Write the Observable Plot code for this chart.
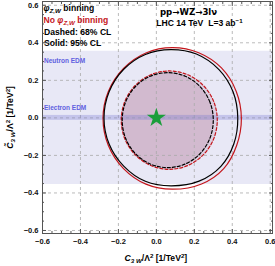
<!DOCTYPE html>
<html><head><meta charset="utf-8">
<script src="https://cdn.jsdelivr.net/npm/d3@7"></script>
<script src="https://cdn.jsdelivr.net/npm/@observablehq/plot@0.6"></script>
<style>
body{margin:0;background:#fff;}
#chart svg{display:block;font-family:"Liberation Sans","DejaVu Sans",Arial,sans-serif;}
</style>
</head><body><div id="chart"></div>
<script>
// tick values
const xTicks = [-0.6, -0.4, -0.2, 0.0, 0.2, 0.4, 0.6];
const yTicks = [-0.6, -0.4, -0.2, 0.0, 0.2, 0.4, 0.6];
const minorTicks = [-0.55,-0.5,-0.45,-0.35,-0.3,-0.25,-0.15,-0.1,-0.05,0.05,0.1,0.15,0.25,0.3,0.35,0.45,0.5,0.55];
// EDM bands (C3W-tilde limits)
const neutronBand = [{lo: -0.355, hi: 0.355}];
const electronBand = [{lo: -0.013, hi: 0.013}];
// SM point
const smPoint = [{x: 0, y: 0}];
// contours: [C3W, C3W-tilde]
const binning95 = [[0.429,0.0],[0.404,0.139],[0.33,0.257],[0.211,0.34],[0.077,0.364],[-0.058,0.338],[-0.172,0.259],[-0.249,0.139],[-0.276,0.0],[-0.249,-0.139],[-0.172,-0.257],[-0.058,-0.338],[0.077,-0.362],[0.225,-0.337],[0.34,-0.258],[0.408,-0.139]];
const noBinning95 = [[0.448,-0.003],[0.421,0.141],[0.343,0.266],[0.223,0.347],[0.084,0.374],[-0.055,0.346],[-0.173,0.264],[-0.253,0.141],[-0.281,-0.003],[-0.253,-0.147],[-0.173,-0.27],[-0.055,-0.353],[0.084,-0.38],[0.238,-0.352],[0.355,-0.27],[0.423,-0.147]];
const binning68 = [[0.3,-0.012],[0.282,0.085],[0.23,0.167],[0.152,0.222],[0.06,0.241],[-0.032,0.222],[-0.11,0.167],[-0.162,0.085],[-0.18,-0.012],[-0.162,-0.109],[-0.11,-0.191],[-0.032,-0.246],[0.06,-0.265],[0.152,-0.246],[0.23,-0.191],[0.282,-0.109]];
const noBinning68 = [[0.321,-0.012],[0.302,0.088],[0.247,0.173],[0.165,0.23],[0.068,0.25],[-0.029,0.23],[-0.111,0.173],[-0.166,0.088],[-0.185,-0.012],[-0.166,-0.112],[-0.111,-0.197],[-0.029,-0.254],[0.068,-0.274],[0.165,-0.254],[0.247,-0.197],[0.302,-0.112]];

const red = "#c4161c";
const fmt = d3.format(".1f");
const curve = "catmull-rom-closed";
const P = {x: d => d[0], y: d => d[1], curve};
const FONT = "Liberation Sans, DejaVu Sans, Arial, sans-serif";

const plot = Plot.plot({
  width: 275, height: 266,
  marginLeft: 42, marginRight: 3, marginTop: 1, marginBottom: 33,
  x: {domain: [-0.6, 0.612]},
  y: {domain: [-0.616, 0.62]},
  style: {fontFamily: FONT, background: "white"},
  marks: [
    Plot.rect(neutronBand, {y1: "lo", y2: "hi", fill: "#e8e8f6"}),
    Plot.line(noBinning68, {...P, fill: "#b07090", fillOpacity: 0.2, stroke: "none"}),
    Plot.line(binning68, {...P, fill: "#b07090", fillOpacity: 0.22, stroke: "none"}),
    Plot.gridX(xTicks, {stroke: "#aaa", strokeOpacity: 1, strokeDasharray: "3,3", strokeWidth: 0.8}),
    Plot.gridY(yTicks, {stroke: "#aaa", strokeOpacity: 1, strokeDasharray: "3,3", strokeWidth: 0.8}),
    Plot.rect(electronBand, {y1: "lo", y2: "hi", fill: "#7070d0", fillOpacity: 0.3}),
    Plot.line(noBinning95, {...P, stroke: red, strokeWidth: 1.2}),
    Plot.line(binning95, {...P, stroke: "black", strokeWidth: 1.2}),
    Plot.line(noBinning68, {...P, stroke: red, strokeWidth: 1.2, strokeDasharray: "3,2"}),
    Plot.line(binning68, {...P, stroke: "black", strokeWidth: 1.2, strokeDasharray: "3,2"}),
    Plot.dot(smPoint, {x: "x", y: "y", symbol: "star", r: 6, fill: "#1a9e3a", stroke: "none"}),
    Plot.text(["Dashed: 68% CL"], {x: -0.592, y: 0.457, text: d => d, textAnchor: "start", fontWeight: "bold", fontSize: 8.6, fill: "black"}),
    Plot.text(["Solid: 95% CL"], {x: -0.592, y: 0.398, text: d => d, textAnchor: "start", fontWeight: "bold", fontSize: 8.6, fill: "black"}),
    Plot.text(["pp→WZ→3lν"], {x: 0.019, y: 0.563, text: d => d, textAnchor: "start", fontWeight: "bold", fontSize: 8.6, fill: "black", fontFamily: "DejaVu Sans"}),
    Plot.text(["Neutron EDM"], {x: -0.592, y: 0.302, text: d => d, textAnchor: "start", fontWeight: "bold", fontSize: 6.5, fill: "#6060e0"}),
    Plot.text(["Electron EDM"], {x: -0.592, y: 0.052, text: d => d, textAnchor: "start", fontWeight: "bold", fontSize: 6.5, fill: "#6060e0"}),
    Plot.frame({stroke: "#555"}),
    Plot.axisX(xTicks, {anchor: "bottom", tickSize: 0, tickPadding: 5, tickFormat: fmt, fontWeight: "bold", fontSize: 7.5, fill: "#111", label: null}),
    Plot.axisY(yTicks, {anchor: "left", tickSize: 0, tickPadding: 4, tickFormat: fmt, fontWeight: "bold", fontSize: 7.5, fill: "#111", label: null}),
    Plot.axisX(xTicks, {anchor: "bottom", tickSize: -4, tickFormat: () => "", stroke: "#555", label: null}),
    Plot.axisX(xTicks, {anchor: "top", tickSize: -4, tickFormat: () => "", stroke: "#555", label: null}),
    Plot.axisY(yTicks, {anchor: "left", tickSize: -4, tickFormat: () => "", stroke: "#555", label: null}),
    Plot.axisY(yTicks, {anchor: "right", tickSize: -4, tickFormat: () => "", stroke: "#555", label: null}),
    Plot.axisX(minorTicks, {anchor: "bottom", tickSize: -2, tickFormat: () => "", stroke: "#555", label: null}),
    Plot.axisX(minorTicks, {anchor: "top", tickSize: -2, tickFormat: () => "", stroke: "#555", label: null}),
    Plot.axisY(minorTicks, {anchor: "left", tickSize: -2, tickFormat: () => "", stroke: "#555", label: null}),
    Plot.axisY(minorTicks, {anchor: "right", tickSize: -2, tickFormat: () => "", stroke: "#555", label: null})
  ]
});
document.getElementById("chart").appendChild(plot);

const sx = plot.scale("x"), sy = plot.scale("y");
const svg = d3.select(plot);
// rich text helper
function rich(x, y, parts, opts) {
  const t = svg.append("text").attr("x", x).attr("y", y)
    .attr("font-size", opts.size).attr("font-weight", "bold")
    .attr("font-family", FONT)
    .attr("fill", opts.fill || "black").attr("dy", "0.35em")
    .attr("text-anchor", opts.anchor || "start");
  if (opts.rotate) t.attr("transform", `rotate(-90,${x},${y})`);
  let shift = 0;
  for (const p of parts) {
    const s = t.append("tspan").text(p.t);
    const target = p.sub ? 2 : p.sup ? -3 : 0;
    if (target !== shift) { s.attr("dy", target - shift); shift = target; }
    if (p.sub || p.sup) s.attr("font-size", opts.size * 0.72);
    if (p.i) s.attr("font-style", "italic");
    if (p.fill) s.attr("fill", p.fill);
  }
  return t;
}
const x0 = sx.apply(-0.592);
rich(x0, sy.apply(0.581), [{t: "φ", i: true}, {t: "Z,W", sub: true, i: true}, {t: " binning"}], {size: 8.6});
rich(x0, sy.apply(0.519), [{t: "No "}, {t: "φ", i: true}, {t: "Z,W", sub: true, i: true}, {t: " binning"}], {size: 8.6, fill: red});
rich(sx.apply(0.002), sy.apply(0.501), [{t: "LHC 14 TeV  L=3 ab"}, {t: "−1", sup: true}], {size: 8.6});
// axis titles
const xc = sx.apply(0);
rich(xc, 258, [{t: "C", i: true}, {t: "3 W", sub: true, i: true}, {t: "/Λ"}, {t: "2", sup: true}, {t: " [1/TeV"}, {t: "2", sup: true}, {t: "]"}], {size: 8.6, anchor: "middle"});
rich(10, sy.apply(0), [{t: "C̃", i: true}, {t: "3 W", sub: true, i: true}, {t: "/Λ"}, {t: "2", sup: true}, {t: " [1/TeV"}, {t: "2", sup: true}, {t: "]"}], {size: 8.6, anchor: "middle", rotate: true});
</script>
</body></html>
